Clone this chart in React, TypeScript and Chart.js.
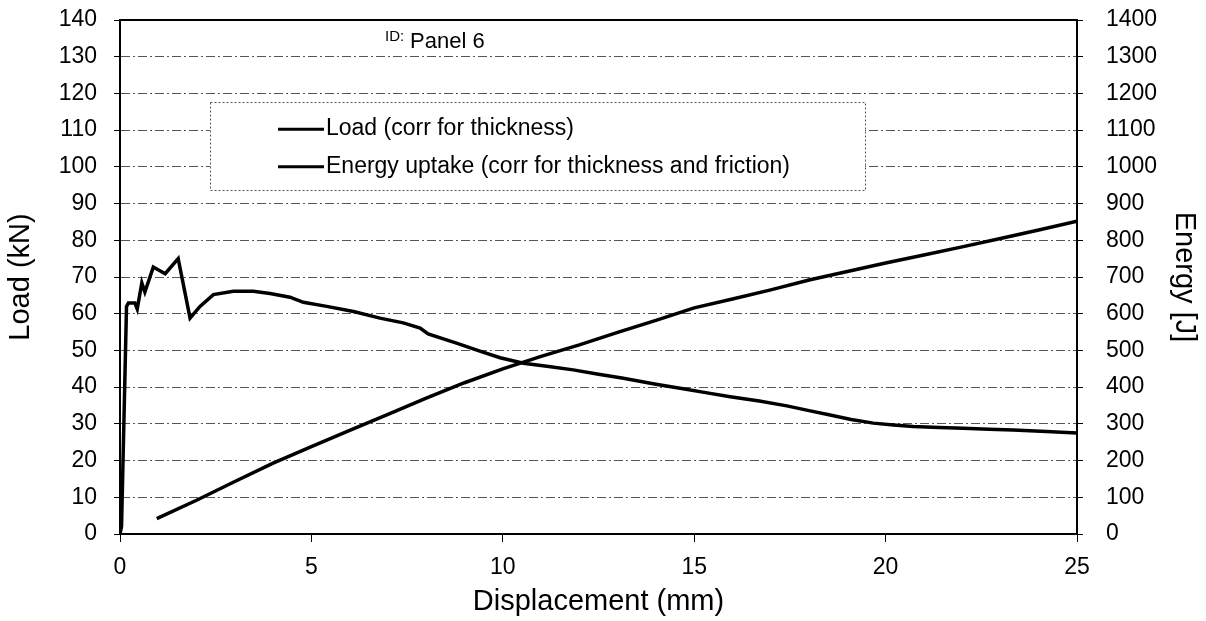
import React, { useEffect, useRef } from 'react';
import { Chart, registerables } from 'chart.js';

Chart.register(...registerables);

// ---------- data ----------
const loadX = [0, 0.04, 0.17, 0.22, 0.39, 0.45, 0.57, 0.65, 0.87, 1.18, 1.52, 1.83, 2.09, 2.44, 2.96, 3.48, 3.92, 4.44, 4.79, 5.4, 6.1, 6.79, 7.4, 7.84, 8.05, 8.79, 9.4, 9.93, 10.54, 11.2, 11.84, 12.5, 13.15, 14.0, 14.63, 15.3, 15.94, 16.7, 17.42, 18.0, 18.55, 19.1, 19.68, 20.2, 20.72, 21.4, 22.03, 22.7, 23.33, 24.2, 25];
const loadY = [0, 2, 62, 62.9, 62.9, 61.3, 68.4, 65.9, 72.7, 70.9, 75, 58.8, 62, 65.2, 66.1, 66.1, 65.5, 64.5, 63.1, 62, 60.6, 58.8, 57.5, 56.1, 54.5, 52, 49.8, 48, 46.5, 45.6, 44.7, 43.5, 42.4, 40.8, 39.7, 38.5, 37.4, 36.2, 34.9, 33.6, 32.4, 31.2, 30.2, 29.7, 29.3, 29, 28.8, 28.5, 28.3, 27.9, 27.5];

const energyX = [0.96, 2, 3, 4, 5, 6, 7, 8, 9, 10, 11, 12, 13, 14, 15, 16, 17, 18, 19, 20, 21, 22, 23, 24, 25];
const energyY = [42, 92, 143, 193, 238, 282, 326, 370, 412, 450, 484, 515, 549, 582, 616, 640, 665, 692, 715, 738, 760, 782, 805, 828, 852];

const loadLabel = 'Load (corr for thickness)';
const energyLabel = 'Energy uptake (corr for thickness and friction)';
const idLabel = 'ID:';
const panelName = 'Panel 6';
const xTitle = 'Displacement (mm)';
const yTitle = 'Load (kN)';
const y1Title = 'Energy [J]';

const FONT = "'Liberation Sans', Arial, Helvetica, sans-serif";

export default function App() {
  const ref = useRef<HTMLCanvasElement>(null);

  useEffect(() => {
    document.body.style.margin = '0';
    const canvas = ref.current;
    if (!canvas) return;
    Chart.defaults.font.family = FONT;
    Chart.defaults.color = '#000';

    const overlay = {
      id: 'overlay',
      afterDraw(chart: any) {
        const { ctx, chartArea } = chart;
        const ys = chart.scales.y;
        ctx.save();
        // plot frame
        ctx.strokeStyle = '#000';
        ctx.lineWidth = 2;
        ctx.setLineDash([]);
        ctx.strokeRect(chartArea.left, chartArea.top, chartArea.right - chartArea.left, chartArea.bottom - chartArea.top);

        // legend box
        const lx = 210, ly = 102, lw = 655, lh = 88;
        ctx.fillStyle = '#fff';
        ctx.fillRect(lx, ly, lw, lh);
        ctx.strokeStyle = '#555';
        ctx.lineWidth = 1;
        ctx.setLineDash([2, 2]);
        ctx.strokeRect(lx + 0.5, ly + 0.5, lw, lh);
        ctx.setLineDash([]);
        const entries = [
          { label: chart.data.datasets[0].label, y: ys.getPixelForValue(110) - 1 },
          { label: chart.data.datasets[1].label, y: ys.getPixelForValue(100) },
        ];
        ctx.font = `23px ${FONT}`;
        ctx.textBaseline = 'middle';
        ctx.textAlign = 'left';
        entries.forEach((e) => {
          ctx.strokeStyle = '#000';
          ctx.lineWidth = 3;
          ctx.beginPath();
          ctx.moveTo(278, e.y);
          ctx.lineTo(324, e.y);
          ctx.stroke();
          ctx.fillStyle = '#000';
          ctx.fillText(e.label, 326, e.y);
        });

        // ID text
        ctx.font = `15px ${FONT}`;
        ctx.fillText(idLabel, 385, 37);
        ctx.font = `22px ${FONT}`;
        ctx.fillText(panelName, 410, 42);
        ctx.restore();
      },
    };

    const plain = (v: any) => String(v);

    const chart = new Chart(canvas, {
      type: 'line',
      data: {
        datasets: [
          {
            label: loadLabel,
            data: loadX.map((x, i) => ({ x, y: loadY[i] })),
            borderColor: '#000',
            borderWidth: 3.5,
            pointRadius: 0,
            tension: 0,
            yAxisID: 'y',
          },
          {
            label: energyLabel,
            data: energyX.map((x, i) => ({ x, y: energyY[i] })),
            borderColor: '#000',
            borderWidth: 3.5,
            pointRadius: 0,
            tension: 0,
            yAxisID: 'y1',
          },
        ],
      },
      plugins: [overlay],
      options: {
        animation: false,
        responsive: false,
        devicePixelRatio: 1,
        layout: { padding: { top: 20, left: 0, right: 0, bottom: 0 } },
        plugins: {
          legend: { display: false },
          tooltip: { enabled: false },
        },
        scales: {
          x: {
            type: 'linear',
            min: 0,
            max: 25,
            afterFit: (s: any) => { s.height = 87; s.paddingLeft = 0; s.paddingRight = 0; },
            ticks: { stepSize: 5, font: { size: 23 }, color: '#000', padding: 12, maxRotation: 0, callback: plain },
            grid: { drawOnChartArea: false, tickLength: 8, tickColor: '#000' },
            border: { color: '#000', width: 2 },
            title: { display: true, text: xTitle, font: { size: 29 }, color: '#000', padding: { top: 0, bottom: 2 } },
          },
          y: {
            type: 'linear',
            position: 'left',
            min: 0,
            max: 140,
            afterFit: (s: any) => { s.width = 120; s.paddingTop = 0; s.paddingBottom = 0; },
            ticks: { stepSize: 10, font: { size: 23 }, color: '#000', padding: 17, callback: plain },
            grid: { color: '#555', lineWidth: 1, tickLength: 6, tickColor: '#000' },
            border: { color: '#000', width: 2, dash: [9, 3, 2, 3] },
            title: { display: true, text: yTitle, font: { size: 29 }, color: '#000', padding: { top: 4, bottom: 0 } },
          },
          y1: {
            type: 'linear',
            position: 'right',
            min: 0,
            max: 1400,
            afterFit: (s: any) => { s.width = 129; s.paddingTop = 0; s.paddingBottom = 0; },
            ticks: { stepSize: 100, font: { size: 23 }, color: '#000', padding: 23, callback: plain },
            grid: { drawOnChartArea: false, tickLength: 6, tickColor: '#000' },
            border: { color: '#000', width: 2 },
            title: { display: true, text: y1Title, font: { size: 29 }, color: '#000', padding: { top: 5, bottom: 0 } },
          },
        },
      },
    });
    return () => chart.destroy();
  }, []);

  return (
    <div style={{ width: 1206, height: 621 }}>
      <canvas ref={ref} width={1206} height={621} />
    </div>
  );
}
